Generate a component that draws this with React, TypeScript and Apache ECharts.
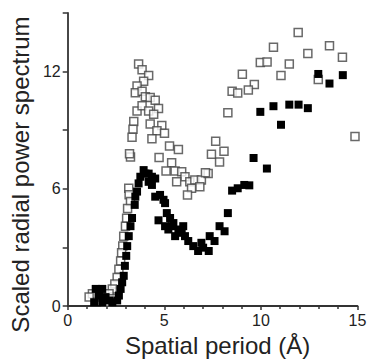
import React, { useEffect, useRef } from "react";
import * as echarts from "echarts";

const xTicks = [0, 5, 10, 15];
const yTickLabels = [0, 6, 12];

const openSquares: [number, number][] = [
  [11.93, 14.0], [10.65, 13.25], [13.55, 13.33], [12.43, 12.93], [14.22, 12.73],
  [11.47, 12.39], [9.97, 12.47], [10.32, 12.49], [11.04, 11.8], [9.04, 11.87],
  [12.97, 11.6], [9.66, 11.34], [9.35, 11.06], [8.51, 11.0], [8.8, 10.9],
  [8.29, 9.9], [8.09, 7.93], [7.86, 7.38], [7.66, 8.44], [7.44, 7.77], [14.87, 8.68],
  [5.27, 8.19], [5.73, 8.02], [4.73, 7.6], [5.38, 7.33], [5.56, 6.92], [5.09, 6.92],
  [5.9, 6.87], [6.07, 6.62], [5.64, 6.36], [6.32, 6.36], [6.58, 6.45], [6.92, 6.45],
  [7.27, 6.78], [7.13, 6.82], [6.84, 6.11], [6.41, 6.03], [6.2, 5.69],
  [3.67, 12.39], [3.85, 12.1], [4.19, 11.8], [3.93, 11.51], [3.59, 11.26],
  [3.5, 10.92], [3.85, 11.0], [4.02, 10.72], [4.27, 10.67], [4.53, 10.53],
  [3.59, 9.99], [3.85, 10.25], [4.19, 9.99], [4.7, 10.11], [4.45, 9.82],
  [4.27, 9.32], [4.87, 9.24], [4.62, 8.98], [5.01, 8.85], [4.36, 8.56],
  [3.42, 9.45], [3.38, 9.05], [3.33, 8.64], [3.25, 7.63], [3.2, 7.8],
  [3.16, 6.03], [3.18, 5.7], [3.25, 5.35], [3.1, 5.0], [3.05, 4.5], [2.99, 4.09],
  [2.9, 3.58], [2.85, 3.07], [2.79, 2.73], [2.74, 2.31], [2.65, 1.89],
  [2.56, 1.47], [2.44, 1.13], [2.31, 0.88],
  [1.28, 0.63], [1.11, 0.46], [1.62, 0.71], [1.79, 0.46], [2.14, 0.63],
  [2.31, 0.37], [1.96, 0.2],
];

const filledSquares: [number, number][] = [
  [12.97, 11.88], [14.24, 11.82], [13.55, 11.39], [9.97, 9.94], [10.65, 10.23],
  [11.47, 10.31], [11.95, 10.31], [12.43, 10.13], [11.04, 9.28], [9.62, 7.58],
  [10.31, 7.04], [8.51, 5.91], [8.8, 6.03], [9.14, 6.2], [9.4, 6.18], [8.29, 4.76],
  [7.86, 4.09], [8.12, 3.83], [7.35, 3.58], [7.6, 3.33], [6.92, 3.24], [7.01, 2.99],
  [7.3, 2.82], [6.75, 2.82], [6.5, 3.07], [6.24, 3.33], [6.07, 3.58], [5.9, 3.75],
  [5.56, 3.58], [5.73, 3.92], [5.98, 4.09], [5.38, 4.09], [5.21, 3.92], [5.04, 4.09],
  [5.3, 4.51], [5.47, 4.25], [5.13, 4.76], [4.7, 4.39], [4.96, 5.44], [5.04, 5.27],
  [4.78, 5.69], [4.53, 5.6], [4.36, 6.2], [4.19, 6.36], [4.53, 6.53], [4.36, 6.62],
  [4.02, 6.78], [3.93, 6.96], [4.19, 6.78], [3.76, 6.62], [3.67, 6.28], [3.59, 5.86],
  [3.5, 5.6], [3.47, 5.18], [3.33, 4.51], [3.25, 4.09], [3.16, 3.58], [3.08, 3.07],
  [3.03, 2.57], [2.96, 2.06], [2.9, 1.55], [2.82, 1.22], [2.74, 0.88], [2.65, 0.54],
  [2.56, 0.29],
  [1.45, 0.88], [1.79, 0.88], [1.62, 0.54], [1.96, 0.46], [2.14, 0.29], [2.31, 0.2],
  [1.37, 0.2], [1.79, 0.2],
];

const FONT = "Liberation Sans, Arial, sans-serif";

export default function App() {
  const ref = useRef<HTMLDivElement>(null);
  useEffect(() => {
    if (!ref.current) return;
    const chart = echarts.init(ref.current, null, { renderer: "svg" });
    chart.setOption({
      animation: false,
      backgroundColor: "#fff",
      grid: { left: 65, right: 12.5, top: 13, bottom: 51.3 },
      xAxis: {
        type: "value",
        min: 0,
        max: 15,
        interval: 5,
        name: "Spatial period (Å)",
        nameLocation: "middle",
        nameGap: 16,
        nameTextStyle: { fontFamily: FONT, fontSize: 24, color: "#222", padding: [0, 0, 0, 10] },
        axisLine: { show: true, lineStyle: { color: "#333", width: 1.8 } },
        axisTick: { show: true, inside: false, length: 4, lineStyle: { color: "#333", width: 1.5 } },
        minorTick: { show: true, splitNumber: 5, length: 3, lineStyle: { color: "#333", width: 1.5 } },
        splitLine: { show: false },
        axisLabel: {
          margin: 6,
          fontFamily: FONT,
          fontSize: 16,
          color: "#222",
          formatter: (v: number) => (xTicks.includes(v) ? String(v) : ""),
        },
      },
      yAxis: {
        type: "value",
        min: 0,
        max: 15,
        interval: 3,
        name: "Scaled radial power spectrum",
        nameLocation: "middle",
        nameGap: 31,
        nameTextStyle: { fontFamily: FONT, fontSize: 24, color: "#222", padding: [0, 30, 0, 0] },
        axisLine: { show: true, lineStyle: { color: "#333", width: 1.8 } },
        axisTick: { show: true, inside: false, length: 5, lineStyle: { color: "#333", width: 1.5 } },
        splitLine: { show: false },
        axisLabel: {
          margin: 7,
          fontFamily: FONT,
          fontSize: 16,
          color: "#222",
          formatter: (v: number) => (yTickLabels.includes(v) ? String(v) : ""),
        },
      },
      series: [
        {
          type: "scatter",
          data: openSquares,
          symbol: "rect",
          symbolSize: 8,
          itemStyle: { color: "#fff", borderColor: "#444", borderWidth: 1.5 },
        },
        {
          type: "scatter",
          data: filledSquares,
          symbol: "rect",
          symbolSize: 8,
          itemStyle: { color: "#000", opacity: 1 },
        },
      ],
    });
    return () => chart.dispose();
  }, []);
  return (
    <div
      ref={ref}
      style={{ position: "fixed", left: 0, top: 0, width: 370, height: 362 }}
    />
  );
}
